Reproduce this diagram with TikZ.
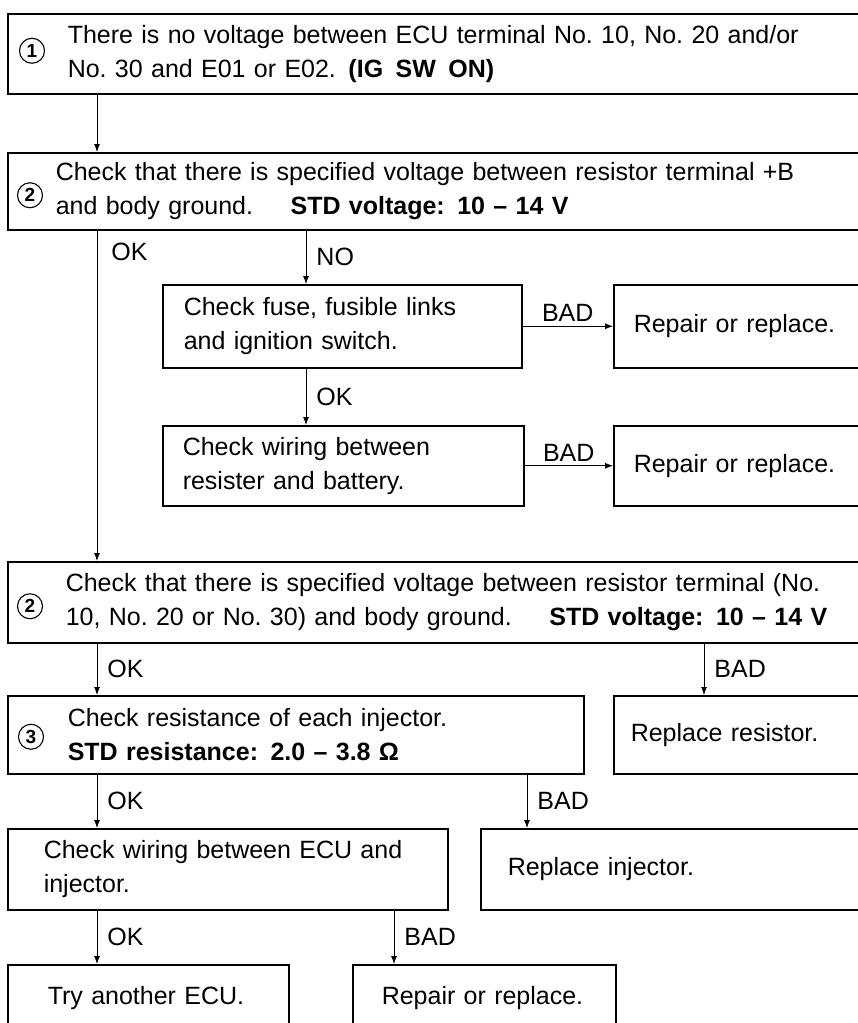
\documentclass[tikz,border=0pt]{standalone}
\usepackage{fontspec}
\setmainfont{Liberation Sans}
\usetikzlibrary{arrows.meta, positioning}
\frenchspacing

\begin{document}
\begin{tikzpicture}[x=1pt, y=-1pt,
    box/.style={draw, line width=1.5pt, anchor=north west, align=left,
        inner ysep=0pt, font=\fontsize{25}{34}\selectfont},
    lbl/.style={font=\fontsize{25}{25}\selectfont, inner sep=2pt},
    num/.style={draw, circle, line width=1.1pt, inner sep=0pt, minimum size=25pt,
        font=\bfseries\fontsize{19}{19}\selectfont},
    arr/.style={-{Latex[length=8pt, width=6pt]}, line width=0.9pt}]

    \useasboundingbox (0,0) rectangle (858,1023);
    \clip (0,0) rectangle (858,1023);

    % colonnes des fleches verticales
    \coordinate (colA) at (97,0);
    \coordinate (colB) at (306,0);
    \coordinate (colC) at (704,0);
    \coordinate (colD) at (527,0);
    \coordinate (colE) at (394,0);

    % boites
    \node[box, inner xsep=60pt, text width=860pt, minimum height=80pt] (fault) at (7,13)
        {There is no voltage between ECU terminal No. 10, No. 20 and/or\\
         No. 30 and E01 or E02.\enspace\textbf{(IG\enspace SW\enspace ON)}};
    \node[num] (n1) at ([xshift=25pt, yshift=3pt]fault.west) {1};

    \node[box, inner xsep=48pt, text width=860pt, minimum height=77pt] (chkB) at (7,152)
        {Check that there is specified voltage between resistor terminal +B\\
         and body ground.\hspace{1.5em}\textbf{STD voltage:\enspace 10 -- 14 V}};
    \node[num] (n2) at ([xshift=23pt, yshift=-4pt]chkB.west) {2};

    \node[box, inner xsep=21pt, text width=317pt, minimum height=83pt] (fuse) at (162,284)
        {Check fuse, fusible links\\ and ignition switch.};
    \node[box, inner xsep=20pt, text width=400pt, minimum height=83pt] (repA) at (613,284)
        {Repair or replace.};

    \node[box, inner xsep=20pt, text width=321pt, minimum height=80pt] (wireB) at (162,425)
        {Check wiring between\\ resister and battery.};
    \node[box, inner xsep=20pt, text width=400pt, minimum height=80pt] (repB) at (613,425)
        {Repair or replace.};

    \node[box, inner xsep=58pt, text width=860pt, minimum height=81pt] (chkT) at (7,561)
        {Check that there is specified voltage between resistor terminal (No.\\
         10, No. 20 or No. 30) and body ground.\hspace{1.5em}\textbf{STD voltage:\enspace 10 -- 14 V}};
    \node[num] (n3) at ([xshift=23pt, yshift=-4pt]chkT.west) {2};

    \node[box, inner xsep=60pt, text width=456pt, minimum height=78pt] (inj) at (7,695)
        {Check resistance of each injector.\\
         \textbf{STD resistance:\enspace 2.0 -- 3.8 Ω}};
    \node[num] (n4) at ([xshift=24pt, yshift=-2pt]inj.west) {3};
    \node[box, inner xsep=17pt, text width=400pt, minimum height=78pt] (rplR) at (613,695)
        {Replace resistor.};

    \node[box, inner xsep=36pt, text width=368pt, minimum height=81pt] (wireE) at (7,828)
        {Check wiring between ECU and\\ injector.};
    \node[box, inner xsep=27pt, text width=500pt, minimum height=81pt] (rplI) at (480,828)
        {Replace injector.};

    \node[box, inner xsep=40pt, inner ysep=22pt, text width=201pt] (tryE) at (7,964)
        {Try another ECU.};
    \node[box, inner xsep=20pt, inner ysep=22pt, text width=223pt] (repC) at (352,964)
        {\hspace*{9pt}Repair or replace.};

    % liaisons
    \draw[arr] (fault.south -| colA) -- (chkB.north -| colA);
    \draw[arr] (chkB.south -| colA) --
        node[lbl, at start, anchor=north west, xshift=12pt, yshift=-10pt] {OK}
        (chkT.north -| colA);
    \draw[arr] (chkB.south -| colB) -- node[lbl, right=8pt] {NO} (fuse.north -| colB);
    \draw[arr] (fuse.south -| colB) -- node[lbl, right=8pt] {OK} (wireB.north -| colB);
    \draw[arr] (fuse.east) -- node[lbl, above=2pt] {BAD} (repA.west);
    \draw[arr] (wireB.east) -- node[lbl, above=2pt] {BAD} (repB.west);

    \draw[arr] (chkT.south -| colA) -- node[lbl, right=8pt] {OK} (inj.north -| colA);
    \draw[arr] (chkT.south -| colC) -- node[lbl, right=8pt] {BAD} (rplR.north -| colC);
    \draw[arr] (inj.south -| colA) -- node[lbl, right=8pt] {OK} (wireE.north -| colA);
    \draw[arr] (inj.south -| colD) -- node[lbl, right=8pt] {BAD} (rplI.north -| colD);
    \draw[arr] (wireE.south -| colA) -- node[lbl, right=8pt] {OK} (tryE.north -| colA);
    \draw[arr] (wireE.south -| colE) -- node[lbl, right=8pt] {BAD} (repC.north -| colE);
\end{tikzpicture}
\end{document}
